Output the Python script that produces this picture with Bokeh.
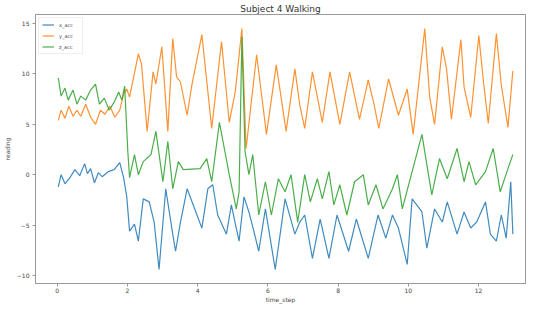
from bokeh.plotting import figure
from bokeh.models import Range1d, FixedTicker
from bokeh.embed import file_html
from bokeh.resources import INLINE

# ---- data ----
t_x = [0.03, 0.11, 0.22, 0.36, 0.50, 0.64, 0.78, 0.86, 0.95, 1.06, 1.17, 1.28, 1.45, 1.62, 1.78, 1.89,
       1.98, 2.06, 2.20, 2.31, 2.45, 2.62, 2.76, 2.90, 3.09, 3.29, 3.37, 3.51, 3.70, 3.98, 4.12, 4.29,
       4.43, 4.57, 4.82, 4.96, 5.10, 5.18, 5.32, 5.46, 5.60, 5.74, 5.93, 6.21, 6.49, 6.77, 6.91, 7.05,
       7.27, 7.49, 7.74, 7.97, 8.30, 8.52, 8.86, 9.14, 9.36, 9.55, 9.72, 9.97, 10.11, 10.39, 10.53,
       10.75, 10.97, 11.11, 11.39, 11.59, 11.78, 11.95, 12.20, 12.34, 12.51, 12.65, 12.79, 12.92, 12.98]
x_acc = [-1.2, 0.0, -0.9, -0.3, 0.5, -0.1, 1.1, 0.1, 0.6, -0.8, 0.2, -0.2, 0.3, 0.5, 1.2, -0.3,
         -2.2, -5.6, -4.9, -6.6, -2.4, -2.7, -4.7, -9.4, -1.4, -5.9, -7.6, -4.7, -1.4, -4.0, -5.3, -1.4,
         -1.0, -4.0, -5.9, -3.0, -5.3, -6.6, -2.2, -3.7, -5.6, -7.6, -3.4, -9.4, -2.4, -5.9, -4.7, -4.0,
         -8.3, -4.4, -8.3, -4.0, -7.6, -4.4, -8.3, -4.0, -6.3, -4.0, -5.3, -8.9, -2.4, -3.7, -7.3,
         -3.4, -4.7, -2.7, -5.9, -3.7, -5.3, -4.7, -2.7, -5.9, -6.6, -4.0, -6.3, -0.7, -5.9]

t_y = [0.03, 0.11, 0.22, 0.33, 0.45, 0.56, 0.67, 0.81, 0.95, 1.09, 1.23, 1.36, 1.50, 1.64, 1.78, 1.89,
       1.98, 2.06, 2.31, 2.40, 2.56, 2.73, 2.81, 2.98, 3.15, 3.29, 3.40, 3.51, 3.70, 3.84, 4.12, 4.40, 4.68,
       4.90, 5.07, 5.26, 5.38, 5.68, 5.96, 6.24, 6.52, 6.77, 6.91, 7.05, 7.27, 7.55, 7.77, 8.05, 8.33,
       8.61, 8.86, 9.03, 9.16, 9.44, 9.72, 9.97, 10.14, 10.47, 10.61, 10.75, 10.97, 11.09, 11.23,
       11.50, 11.59, 11.78, 12.01, 12.14, 12.28, 12.51, 12.65, 12.84, 12.98]
y_acc = [5.4, 6.4, 5.6, 6.8, 5.8, 6.4, 5.8, 7.0, 5.7, 5.0, 6.4, 6.0, 6.8, 5.7, 6.4, 8.0,
         8.5, 7.7, 12.0, 11.0, 4.3, 10.2, 9.0, 12.7, 4.3, 13.5, 9.7, 9.2, 5.9, 9.0, 13.9, 4.6, 13.2,
         5.2, 8.2, 14.5, 2.6, 11.9, 4.0, 10.9, 4.3, 10.5, 6.9, 4.6, 10.2, 5.2, 10.2, 5.0, 10.2,
         5.5, 9.4, 6.9, 4.6, 9.5, 5.9, 8.5, 4.0, 14.5, 7.7, 5.0, 12.7, 10.5, 5.5,
         13.4, 8.7, 5.7, 13.8, 9.3, 5.1, 14.0, 8.9, 4.7, 10.3]

t_z = [0.03, 0.11, 0.22, 0.31, 0.45, 0.56, 0.67, 0.81, 0.95, 1.09, 1.20, 1.34, 1.48, 1.62, 1.75, 1.84,
       1.92, 2.01, 2.06, 2.20, 2.31, 2.45, 2.67, 2.81, 3.01, 3.15, 3.29, 3.45, 3.59, 4.07, 4.26, 4.40,
       4.62, 4.76, 4.90, 5.10, 5.18, 5.26, 5.35, 5.46, 5.57, 5.74, 5.93, 6.10, 6.30, 6.49, 6.66, 6.85,
       7.05, 7.21, 7.41, 7.55, 7.74, 7.88, 8.05, 8.25, 8.47, 8.72, 8.86, 9.08, 9.28, 9.55, 9.69, 9.83,
       10.11, 10.39, 10.53, 10.67, 10.89, 11.11, 11.39, 11.59, 11.73, 11.92, 12.20, 12.42, 12.62,
       12.84, 12.98]
z_acc = [9.6, 7.8, 8.6, 7.4, 8.4, 7.0, 7.8, 7.4, 8.4, 9.0, 7.0, 7.6, 6.4, 7.2, 8.2, 7.4,
         8.8, 2.3, -0.3, 2.0, 0.0, 1.3, 2.0, 4.3, -0.7, 3.3, -1.4, 1.3, 0.5, 0.6, 1.6, -0.7,
         5.2, 2.6, 0.0, -3.4, -1.7, 13.7, 2.3, 0.0, 2.0, -4.0, -0.7, -4.0, -0.4, -1.7, 0.0, -4.7,
         0.0, -2.7, -0.4, -2.4, 0.3, -3.0, -1.0, -4.0, -0.7, 0.0, -3.0, -1.0, -3.4, -1.4, 0.0, -3.4,
         0.3, 4.0, 1.0, -2.0, 1.6, -0.4, 2.6, -0.7, 1.3, -1.0, 0.3, 2.6, -1.7,
         0.6, 2.0]

series_names = ["x_acc", "y_acc", "z_acc"]
series_colors = ["#1f77b4", "#ff7f0e", "#2ca02c"]
x_ticks = [0, 2, 4, 6, 8, 10, 12]
y_ticks = [-10, -5, 0, 5, 10, 15]

FONT = "DejaVu Sans"

p = figure(width=528, height=305, output_backend="svg", toolbar_location=None,
           x_range=Range1d(-0.62, 13.34), y_range=Range1d(-10.8, 15.9),
           title="Subject 4 Walking", x_axis_label="time_step", y_axis_label="reading",
           min_border_left=24, min_border_right=3, min_border_top=14, min_border_bottom=0)

for tt, vv, name, col in zip([t_x, t_y, t_z], [x_acc, y_acc, z_acc], series_names, series_colors):
    p.line(tt, vv, line_color=col, line_width=1.2, line_alpha=0.85, legend_label=name)

p.title.align = "center"
p.title.text_font = FONT
p.title.text_font_size = "9px"
p.title.text_font_style = "normal"
p.title.text_color = "#333333"
p.title.standoff = 2

p.xgrid.visible = False
p.ygrid.visible = False
p.outline_line_color = "#999999"
p.outline_line_width = 1
p.background_fill_color = "white"
p.border_fill_color = "white"

p.xaxis.ticker = FixedTicker(ticks=x_ticks)
p.yaxis.ticker = FixedTicker(ticks=y_ticks)
for ax in [p.xaxis[0], p.yaxis[0]]:
    ax.axis_line_color = "#999999"
    ax.major_tick_line_color = "#999999"
    ax.minor_tick_line_color = None
    ax.major_tick_out = 3
    ax.major_tick_in = 0
    ax.major_label_text_font = FONT
    ax.major_label_text_font_size = "6px"
    ax.major_label_text_color = "#444444"
    ax.axis_label_text_font = FONT
    ax.axis_label_text_font_size = "6px"
    ax.axis_label_text_font_style = "normal"
    ax.axis_label_text_color = "#444444"
p.xaxis.major_label_standoff = 1
p.xaxis.axis_label_standoff = 0
p.yaxis.major_label_standoff = 3
p.yaxis.axis_label_standoff = 3

p.legend.location = "top_left"
p.legend.label_text_font = FONT
p.legend.label_text_font_size = "5px"
p.legend.label_text_color = "#444444"
p.legend.glyph_width = 12
p.legend.glyph_height = 7
p.legend.label_height = 7
p.legend.spacing = 4
p.legend.padding = 3
p.legend.margin = 3
p.legend.border_line_color = "#dddddd"
p.legend.background_fill_alpha = 0.8

open("out.html", "w").write(file_html(p, INLINE))
